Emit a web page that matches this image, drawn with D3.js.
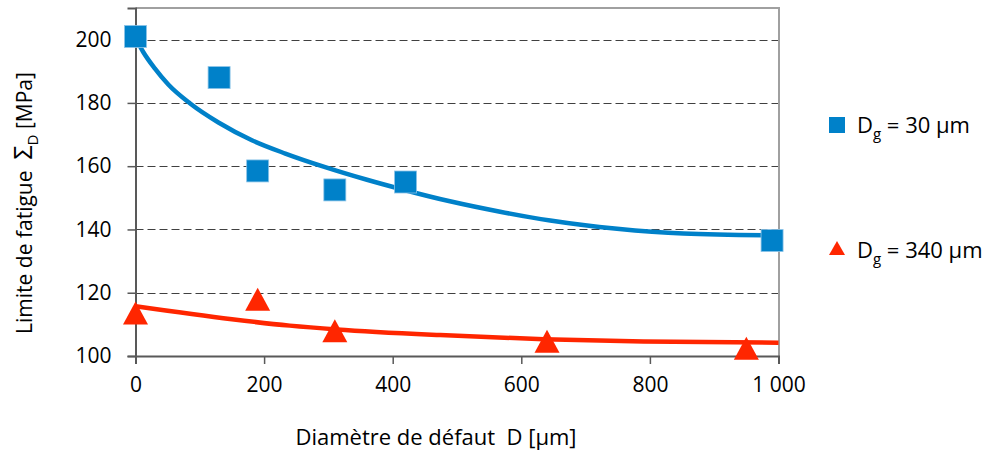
<!DOCTYPE html>
<html>
<head>
<meta charset="utf-8">
<script src="https://cdn.jsdelivr.net/npm/d3@7"></script>
<style>
  body { margin: 0; background: #fff; }
  svg { display: block; font-family: "Open Sans", "Noto Sans", sans-serif; }
  text { white-space: pre; }
</style>
</head>
<body>
<svg id="chart" width="996" height="456"></svg>
<script>
// ---- data ----
const xTicks = [0, 200, 400, 600, 800, 1000];
const yTicks = [100, 120, 140, 160, 180, 200];
const gridTicks = [120, 140, 160, 180, 200];

// Dg = 30 µm measured points
const blueD = [0, 130, 190, 310, 420, 990];
const blueS = [201, 188, 158.5, 152.5, 155, 136.5];
// Dg = 30 µm fitted curve
const blueFitD = [0, 12, 30, 51, 85, 129, 181, 233, 295, 360, 412, 489, 567, 645, 749, 852, 1000];
const blueFitS = [200.6, 196.1, 190.9, 185.8, 179.8, 173.8, 168.2, 164.0, 159.7, 155.7, 152.8, 148.9, 145.6, 142.8, 140.2, 138.7, 138.1];

// Dg = 340 µm measured points
const redD = [0, 190, 310, 640, 950];
const redS = [113.2, 117.6, 107.6, 104.3, 102.1];
// Dg = 340 µm fitted curve
const redFitD = [0, 150, 240, 313, 474, 635, 790, 1000];
const redFitS = [115.7, 111.6, 109.6, 108.4, 106.6, 105.3, 104.6, 104.2];

const legendLabels = ["30 µm", "340 µm"];

const BLUE = "#0081C9";
const RED = "#FF2600";

// ---- layout ----
const svg = d3.select("#chart");
const L = 135.5, R = 779, T = 8, B = 356;
const x = d3.scaleLinear().domain([0, 1000]).range([L, R - 0.5]);
const y = d3.scaleLinear().domain([100, 210]).range([B, T]);

// grid lines
svg.append("g").selectAll("line").data(gridTicks).join("line")
  .attr("x1", L).attr("x2", R)
  .attr("y1", d => Math.round(y(d)) + 0.5).attr("y2", d => Math.round(y(d)) + 0.5)
  .attr("stroke", "#404040").attr("stroke-width", 1)
  .attr("stroke-dasharray", "8,4");

// top & right border
svg.append("path")
  .attr("d", `M${L},${T} H${R} V${B}`)
  .attr("fill", "none").attr("stroke", "#A0A0A0").attr("stroke-width", 2);

// axes
const fmtX = d => d === 1000 ? "1 000" : String(d);
const xAxis = svg.append("g").attr("transform", `translate(0,${B})`)
  .call(d3.axisBottom(x).tickValues(xTicks).tickFormat(fmtX).tickSize(8).tickPadding(13));
const yAxis = svg.append("g").attr("transform", `translate(${L},0)`)
  .call(d3.axisLeft(y).tickValues(yTicks).tickSize(8).tickPadding(16));
[xAxis, yAxis].forEach(g => {
  g.select(".domain").attr("stroke", "#595959").attr("stroke-width", 2);
  g.selectAll(".tick line").attr("stroke", "#595959").attr("stroke-width", 1.5);
  g.selectAll(".tick text").attr("fill", "#000").style("font-size", "21px")
    .style("font-family", "'Open Sans', sans-serif");
});

// curves
const line = d3.line().x(d => x(d[0])).y(d => y(d[1])).curve(d3.curveMonotoneX);
svg.append("path").datum(d3.zip(blueFitD, blueFitS))
  .attr("d", line).attr("fill", "none").attr("stroke", BLUE).attr("stroke-width", 4.5);
svg.append("path").datum(d3.zip(redFitD, redFitS))
  .attr("d", line).attr("fill", "none").attr("stroke", RED).attr("stroke-width", 4.5);

// markers
const sq = 22;
svg.append("g").selectAll("rect").data(d3.zip(blueD, blueS)).join("rect")
  .attr("x", d => x(d[0]) - sq / 2).attr("y", d => y(d[1]) - sq / 2)
  .attr("width", sq).attr("height", sq)
  .attr("fill", BLUE).attr("stroke", "#8CC4E8").attr("stroke-width", 0.8);

const tri = (cx, cy, w, h) => `M${cx},${cy - h * 0.55} L${cx + w / 2},${cy + h * 0.45} L${cx - w / 2},${cy + h * 0.45} Z`;
svg.append("g").selectAll("path").data(d3.zip(redD, redS)).join("path")
  .attr("d", d => tri(x(d[0]), y(d[1]), 25, 23))
  .attr("fill", RED);

// axis titles
svg.append("text").attr("x", 436).attr("y", 445).attr("text-anchor", "middle")
  .style("font-size", "22px").text("Diamètre de défaut  D [µm]");

const yt = svg.append("text").attr("transform", "translate(32,203) rotate(-90)")
  .attr("text-anchor", "middle").style("font-size", "21px");
yt.append("tspan").text("Limite de fatigue  ");
yt.append("tspan").style("font-size", "25px").text("Σ");
yt.append("tspan").attr("dy", 6).style("font-size", "15px").text("D");
yt.append("tspan").attr("dy", -6).text(" [MPa]");

// legend
const leg = svg.append("g");
leg.append("rect").attr("x", 829).attr("y", 117).attr("width", 16).attr("height", 16).attr("fill", BLUE);
leg.append("path").attr("d", "M837,241 L845,255 L829,255 Z").attr("fill", RED);
[[133, legendLabels[0]], [258, legendLabels[1]]].forEach(([by, lab]) => {
  const t = leg.append("text").attr("x", 857).attr("y", by).style("font-size", "22px");
  t.append("tspan").text("D");
  t.append("tspan").attr("dy", 6).style("font-size", "15px").text("g");
  t.append("tspan").attr("dy", -6).text(" = " + lab);
});
</script>
</body>
</html>
